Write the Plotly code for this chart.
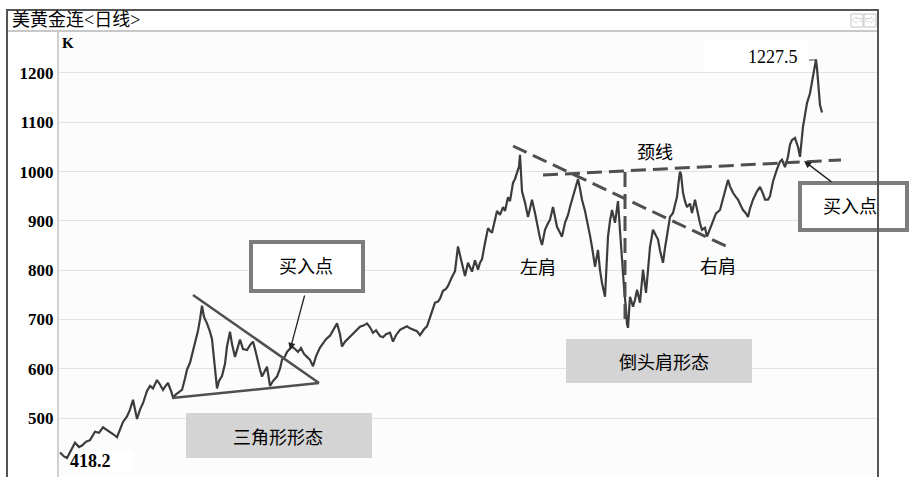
import plotly.graph_objects as go

# ---------------- data ----------------
TITLE = "美黄金连<日线>"
# position along the time axis (chart columns from the first bar) and price
bar = [
    0, 4, 7, 11, 15, 19, 22, 26, 30, 35,
    39, 43, 47, 50, 54, 57, 60, 63, 67, 70,
    73, 75, 77, 80, 83, 87, 90, 93, 97, 100,
    103, 106, 108, 111, 113, 116, 119, 122, 125, 127,
    130, 133, 136, 138, 140, 142, 144, 147, 150, 152,
    154, 157, 159, 162, 165, 167, 170, 172, 175, 178,
    180, 183, 187, 190, 193, 195, 197, 200, 202, 205,
    207, 210, 213, 217, 220, 222, 225, 227, 230, 232,
    235, 238, 241, 244, 247, 250, 253, 256, 260, 263,
    266, 270, 274, 277, 280, 282, 285, 290, 294, 297,
    300, 304, 307, 310, 313, 316, 320, 323, 326, 330,
    333, 336, 340, 344, 347, 350, 353, 357, 360, 364,
    367, 370, 373, 375, 378, 380, 383, 386, 388, 390,
    392, 395, 398, 400, 402, 405, 408, 410, 412, 415,
    418, 420, 422, 425, 428, 430, 432, 435, 437, 440,
    443, 445, 448, 450, 453, 455, 457, 459, 460, 462,
    465, 468, 470, 472, 475, 478, 480, 482, 485, 488,
    490, 493, 495, 497, 500, 502, 505, 508, 510, 513,
    515, 518, 520, 522, 525, 527, 530, 532, 535, 537,
    538, 540, 542, 545, 547, 548, 550, 552, 555, 558,
    560, 562, 564, 566, 567, 568, 570, 573, 575, 577,
    580, 583, 586, 588, 590, 593, 595, 598, 600, 603,
    605, 607, 610, 613, 615, 617, 619, 620, 621, 623,
    625, 627, 630, 632, 635, 638, 640, 642, 645, 647,
    650, 653, 656, 660, 663, 666, 668, 670, 673, 676,
    678, 681, 683, 686, 688, 690, 693, 697, 700, 703,
    705, 708, 710, 713, 715, 717, 720, 722, 725, 728,
    730, 732, 735, 738, 740, 743, 745, 747, 750, 752,
    754, 756, 757, 758, 759, 760, 762,
]
price = [
    430, 422, 419, 435, 450, 441, 444, 452, 455, 472,
    470, 481, 476, 472, 466, 461, 475, 492, 503, 517,
    537, 515, 498, 517, 530, 555, 565, 560, 577, 568,
    557, 566, 571, 555, 542, 548, 553, 557, 580, 598,
    612, 636, 655, 677, 700, 728, 705, 692, 675, 660,
    620, 560, 575, 585, 610, 645, 675, 650, 624, 645,
    659, 640, 638, 648, 655, 640, 622, 598, 584, 595,
    604, 565, 575, 584, 600, 618, 625, 634, 640, 645,
    640, 634, 642, 630, 624, 618, 605, 625, 643, 652,
    660, 667, 680, 692, 670, 645, 655, 665, 672, 680,
    685, 688, 692, 684, 673, 678, 666, 664, 670, 673,
    655, 668, 679, 683, 686, 682, 679, 676, 668, 680,
    686, 705, 722, 734, 736, 742, 758, 762, 768, 778,
    786, 798, 848, 830, 815, 788, 815, 805, 797, 820,
    801, 815, 822, 855, 885, 880, 876, 902, 920, 912,
    928, 920, 948, 940, 977, 985, 997, 1010, 1034, 960,
    937, 908, 925, 943, 916, 882, 865, 851, 882, 895,
    902, 928, 905, 888, 876, 868, 896, 912, 928, 950,
    967, 985, 965, 943, 920, 902, 870, 847, 807, 830,
    841, 800, 774, 746, 820, 868, 900, 922, 896, 940,
    880, 815, 766, 720, 690, 683, 746, 726, 740, 760,
    734, 801, 754, 800, 847, 882, 875, 862, 840, 815,
    845, 868, 908, 916, 930, 949, 985, 1000, 995, 957,
    940, 928, 935, 916, 943, 910, 895, 882, 886, 868,
    885, 902, 915, 922, 945, 965, 983, 970, 957, 948,
    943, 930, 922, 915, 908, 925, 943, 960, 969, 955,
    943, 943, 950, 980, 995, 1005, 1020, 1024, 1009, 1030,
    1055, 1064, 1068, 1050, 1030, 1091, 1115, 1139, 1159, 1180,
    1205, 1227.5, 1210, 1185, 1145, 1135, 1120,
]
y_ticks = [500, 600, 700, 800, 900, 1000, 1100, 1200]
high_label = "1227.5"
low_label = "418.2"

# ---------------- layout helpers ----------------
W, H = 910, 477
L, R, T, B = 59, 32, 31, 0
PW, PH = W - L - R, H - T - B


def fx(px):
    return (px - L) / PW


def fy(py):
    return (H - B - py) / PH


SERIF = "Liberation Serif, Noto Sans CJK SC, serif"
FRAME = "#555555"
PAT = "#4f4f4f"

fig = go.Figure()
fig.add_trace(go.Scatter(
    x=bar, y=price, mode="lines",
    line=dict(color="#3c3c3c", width=2.2),
    hoverinfo="skip", showlegend=False,
))

shapes = []


def rect(x0, y0, x1, y1, fill, line_color=None, lw=0, layer="above"):
    shapes.append(dict(
        type="rect", xref="paper", yref="paper",
        x0=fx(x0), x1=fx(x1), y0=fy(y1), y1=fy(y0),
        fillcolor=fill, layer=layer,
        line=dict(color=line_color or fill, width=lw),
    ))


def seg(x0, y0, x1, y1, color, width, dash="solid", layer="above"):
    shapes.append(dict(
        type="line", xref="paper", yref="paper",
        x0=fx(x0), x1=fx(x1), y0=fy(y0), y1=fy(y1),
        layer=layer, line=dict(color=color, width=width, dash=dash),
    ))


# white patches behind the high / low labels
rect(703, 40, 808, 72, "white", layer="between")
rect(68, 451, 133, 472, "white", layer="between")

# triangle pattern
seg(193, 295, 319, 383, PAT, 2.5)
seg(172, 398, 319, 383, PAT, 2.5)

# inverse head & shoulders
DASH = "15px,7px"
seg(543, 175, 841, 160, PAT, 3, DASH)
seg(513, 146, 730, 248, PAT, 3, DASH)
seg(625, 172, 625, 326, PAT, 3, DASH)

# grey caption boxes
rect(186, 413, 372, 458, "#d4d4d4")
rect(566, 339, 752, 383, "#d4d4d4")

# buy-point boxes
rect(251, 242, 363, 291, "white", "#7d7d7d", 4)
rect(800, 183, 907, 230, "white", "#7d7d7d", 4)

# high marker
seg(809, 60, 816, 60, "#444", 1)
seg(816, 60, 816, 63, "#444", 1)

# outer frame and title separator
seg(8, 31, 877, 31, "#c8c8c8", 2)
seg(7, 10, 7, 477, FRAME, 2)
seg(6, 10, 879, 10, FRAME, 2)
seg(878, 10, 878, 477, FRAME, 2)

# top-right icons
rect(851, 14, 863, 27, "rgba(0,0,0,0)", "#c4c4c4", 1)
rect(864, 14, 876, 27, "rgba(0,0,0,0)", "#c4c4c4", 1)

annotations = []


def text(cx, cy, s, size=18, color="black", xanchor="center"):
    annotations.append(dict(
        xref="paper", yref="paper", x=fx(cx), y=fy(cy), text=s,
        showarrow=False, xanchor=xanchor, yanchor="middle",
        font=dict(family=SERIF, size=size, color=color),
    ))


def arrow(hx, hy, tx, ty):
    annotations.append(dict(
        xref="paper", yref="paper", x=fx(hx), y=fy(hy), text="",
        showarrow=True, ax=tx - hx, ay=ty - hy,
        arrowhead=2, arrowsize=1.1, arrowwidth=1.3, arrowcolor="#222",
    ))


text(10, 20, TITLE, 18, xanchor="left")
text(68, 43, "<b>K</b>", 15)
text(773, 57, high_label, 18)
text(90, 461, "<b>" + low_label + "</b>", 18)
text(278, 438, "三角形形态", 18)
text(664, 363, "倒头肩形态", 18)
text(306, 267, "买入点", 18)
text(850, 207, "买入点", 18)
text(538, 268, "左肩", 18)
text(718, 267, "右肩", 18)
text(655, 153, "颈线", 18)
text(857, 20, "⇦", 10, "#b5b5b5")
text(870, 20, "⇨", 10, "#b5b5b5")

arrow(290, 350, 305, 294)
arrow(804, 161, 833, 183)

fig.update_layout(
    width=W, height=H,
    margin=dict(l=L, r=R, t=T, b=B, pad=0),
    paper_bgcolor="white", plot_bgcolor="#fcfcfc",
    shapes=shapes, annotations=annotations,
    showlegend=False,
    xaxis=dict(visible=False, range=[-1, 818], fixedrange=True),
    yaxis=dict(
        range=[380.3, 1285.2], tickvals=y_ticks,
        ticktext=["<b>%d</b>" % v for v in y_ticks],
        tickfont=dict(family="Liberation Serif", size=17, color="black"),
        showgrid=True, gridcolor="#e2e2e2", gridwidth=1,
        showline=True, linecolor="#d0d0d0", linewidth=2,
        ticks="", zeroline=False, fixedrange=True,
    ),
)

fig.write_html(
    "out.html",
    config={"displayModeBar": False},
    post_script="document.body.style.margin='0';document.body.style.overflow='hidden';",
)
